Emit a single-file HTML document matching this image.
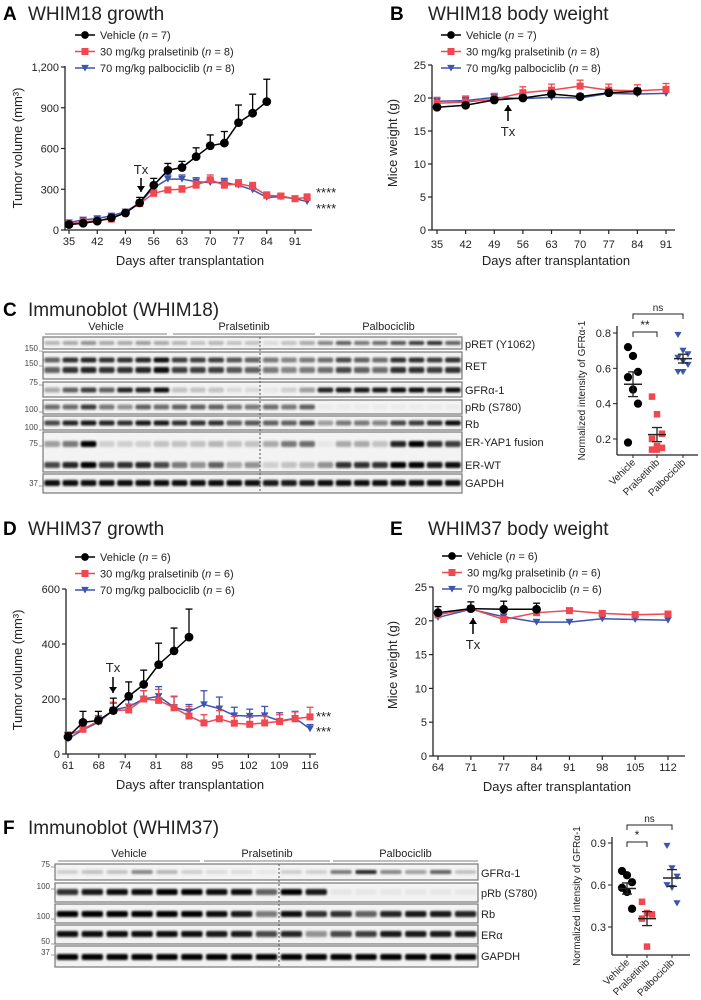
<!DOCTYPE html>
<html><head><meta charset="utf-8"><style>
html,body{margin:0;padding:0;background:#fff;}
svg{display:block;font-family:"Liberation Sans",Arial,sans-serif;}
</style></head><body>
<svg id="fig" width="701" height="1000" viewBox="0 0 701 1000" xmlns="http://www.w3.org/2000/svg">
<defs>
<filter id="blur" x="-20%" y="-50%" width="140%" height="200%"><feGaussianBlur stdDeviation="1.0"/></filter>
</defs>
<g id="root"></g>
</svg>
<script>
// ===== Panel A data =====
const aDays=[35,38.5,42,45.5,49,52.5,56,59.5,63,66.5,70,73.5,77,80.5,84,87.5,91,94];
const aVeh=[40,50,65,90,125,200,330,440,460,540,620,640,790,860,945];
const aVehErr=[10,10,12,15,15,40,50,50,45,65,80,85,130,140,165];
const aPra=[45,60,70,80,130,195,270,295,300,330,370,330,340,320,255,250,230,240];
const aPraErr=[10,10,10,12,15,20,25,20,25,30,35,30,30,30,25,20,20,25];
const aPal=[55,75,85,105,135,200,310,375,375,355,350,350,330,295,240,245,230,210];
const aPalErr=[10,10,12,12,15,20,25,30,30,30,30,30,25,25,20,20,20,20];
const aTicksX=[35,42,49,56,63,70,77,84,91];
const aTicksY=[0,300,600,900,1200];
const aTickYLabels=["0","300","600","900","1,200"];
// ===== Panel B data =====
const bDays=[35,42,49,56,63,70,77,84,91];
const bVeh=[18.6,18.9,19.7,20.0,20.6,20.2,20.8,21.0];
const bPra=[19.2,19.4,19.8,20.8,21.2,21.8,21.2,21.1,21.3];
const bPal=[19.5,19.6,20.1,19.9,20.1,20.0,20.7,20.6,20.7];
const bTicksY=[0,5,10,15,20,25];
// ===== Panel D data =====
const dDays=[61,64.4,67.9,71.3,74.8,78.2,81.6,85.1,88.5,91.9,95.4,98.8,102.3,105.7,109.1,112.6,116];
const dVeh=[62,115,122,158,210,253,325,375,425];
const dVehErr=[15,40,33,45,52,52,78,83,102];
const dPra=[68,90,120,158,160,200,195,168,138,113,128,112,108,113,118,128,135];
const dPraErr=[12,15,20,30,20,30,40,40,35,30,30,25,25,25,25,25,35];
const dPal=[55,88,115,160,172,200,210,170,155,180,165,140,138,140,120,130,92];
const dPalErr=[12,15,20,25,25,30,35,40,25,50,42,30,25,33,30,25,15];
const dTicksX=[61,68,74,81,88,95,102,109,116];
const dTicksY=[0,200,400,600];
// ===== Panel E data =====
const eCats=["64","71","77","84","91","98","105","112"];
const eVeh=[21.2,21.8,21.7,21.7];
const ePra=[20.9,21.8,20.2,21.2,21.5,21.1,20.9,21.0];
const ePal=[20.5,21.7,20.6,19.8,19.8,20.3,20.2,20.1];
const eTicksY=[0,5,10,15,20,25];
// ===== Scatter C data =====
const scGroups=["Vehicle","Pralsetinib","Palbociclib"];
const cVehPts=[0.72,0.67,0.58,0.55,0.48,0.40,0.18];
const cPraPts=[0.44,0.34,0.23,0.20,0.16,0.15,0.14,0.14];
const cPalPts=[0.79,0.70,0.68,0.66,0.64,0.62,0.58,0.58];
const cMeans=[0.51,0.225,0.655];
const cSem=[0.07,0.04,0.025];
const cTicksY=[0.2,0.4,0.6,0.8];
// ===== Scatter F data =====
const fVehPts=[0.70,0.67,0.62,0.58,0.55,0.43];
const fPraPts=[0.48,0.40,0.39,0.36,0.16];
const fPalPts=[0.88,0.72,0.66,0.60,0.58,0.47];
const fMeans=[0.575,0.36,0.65];
const fSem=[0.04,0.05,0.06];
const fTicksY=[0.3,0.6,0.9];
// ===== Blot C intensities (23 lanes) =====
const cLabels=["pRET (Y1062)","RET","GFRα-1","pRb (S780)","Rb","ER-YAP1 fusion","ER-WT","GAPDH"];
const cPRET=[.25,.3,.4,.3,.3,.35,.3,.25,.2,.25,.2,.2,.1,.2,.3,.45,.6,.5,.55,.65,.75,.8,.6];
const cRET=[.6,.8,.85,.8,.8,.85,.95,.75,.75,.75,.65,.6,.5,.45,.5,.55,.7,.6,.55,.8,.8,.75,.8];
const cGFR=[.3,.6,.75,.6,.85,.85,.95,.2,.2,.2,.1,.1,.05,.15,.35,.85,.9,.9,.9,.95,.95,.85,.95];
const cPRB=[.55,.55,.75,.5,.4,.6,.55,.6,.6,.6,.5,.5,.55,.5,.6,.03,.03,.03,.03,.03,.03,.03,.03];
const cRB=[.7,.85,.9,.85,.8,.9,.9,.8,.8,.8,.6,.65,.6,.6,.7,.35,.5,.5,.45,.7,.75,.8,.95];
const cYAP=[.35,.5,1,.15,.15,.15,.2,.2,.2,.25,.2,.2,.3,.5,.55,.05,.3,.3,.2,.85,1,.8,.75];
const cERWT=[.7,.85,1,.75,.8,.85,.7,.5,.4,.6,.3,.4,.15,.2,.25,.4,.8,.8,.8,1,1,.9,.95];
const cGAP=[.95,.95,.95,.95,.95,.95,.95,.95,.95,.95,.95,.95,.9,.9,.9,.95,.95,.95,.95,.95,.95,.95,.95];
// ===== Blot F intensities (17 lanes) =====
const fGFR=[.15,.2,.2,.45,.25,.15,.1,.1,.05,.15,.15,.5,.85,.45,.35,.6,.2];
const fPRB=[.8,.9,.95,.95,1,1,.95,.95,.6,1,.9,.05,.05,.05,.05,.05,.05];
const fRB=[1,1,1,1,1,1,.95,.9,.5,.95,.8,.8,.6,.85,.9,.9,.85];
const fER=[.95,.95,.95,.95,.95,.95,.9,.9,.7,.85,.4,.7,.75,.9,.9,.9,.9];
const fGAP=[1,1,1,1,1,1,1,1,1,1,1,1,1,1,1,1,1];

const NS="http://www.w3.org/2000/svg";
const root=document.getElementById('root');
const RED="#ef4850", BLUE="#3b55b0";
function el(tag,attrs,parent,text){const e=document.createElementNS(NS,tag);for(const k in attrs)e.setAttribute(k,attrs[k]);if(text!==undefined)e.textContent=text;(parent||root).appendChild(e);return e;}
function grp(name){const g=el('g',{});return g;}
function txt(g,x,y,s,size,anchor,extra){const t=el('text',Object.assign({x:x,y:y,'font-size':size,'text-anchor':anchor||'start',fill:'#222'},extra||{}),g,s);return t;}
function marker(g,type,x,y,s){
  if(type==='c') return el('circle',{cx:x,cy:y,r:s*0.55,fill:'#000'},g);
  if(type==='s') return el('rect',{x:x-s/2,y:y-s/2,width:s,height:s,fill:RED},g);
  return el('path',{d:`M${x-s*0.55},${y-s*0.45}L${x+s*0.55},${y-s*0.45}L${x},${y+s*0.5}Z`,fill:BLUE},g);
}
function panelTitle(letter,lx,tx,y,title){
  const g=grp('panel-title-'+letter.toLowerCase());
  el('text',{x:lx,y:y,'font-size':19,'font-weight':'bold',fill:'#000'},g,letter);
  el('text',{x:tx,y:y,'font-size':19,fill:'#222'},g,title);
}
function legend(g,x,y0,dy,labels){
  const types=['c','s','t'],cols=['#000',RED,BLUE];
  labels.forEach((L,i)=>{const y=y0+i*dy;
    const lg=el('g',{},g);
    el('line',{x1:x,x2:x+20,y1:y,y2:y,stroke:cols[i],'stroke-width':1.5},lg);
    marker(lg,types[i],x+10,y,7);
    const t=el('text',{x:x+25,y:y+4,'font-size':11,fill:'#222'},lg);
    t.appendChild(document.createTextNode(L[0]+' ('));
    el('tspan',{'font-style':'italic'},t,'n');
    t.appendChild(document.createTextNode(' = '+L[1]+')'));
  });
}
function series(g,xs,ys,errs,sx,sy,type,color,name){
  const sg=el('g',{},g);
  if(errs) ys.forEach((v,i)=>{const x=sx(xs[i]);el('line',{x1:x,x2:x,y1:sy(v),y2:sy(v+errs[i]),stroke:color,'stroke-width':1.3},sg);el('line',{x1:x-3.5,x2:x+3.5,y1:sy(v+errs[i]),y2:sy(v+errs[i]),stroke:color,'stroke-width':1.3},sg);});
  const pts=ys.map((v,i)=>sx(xs[i])+','+sy(v)).join(' ');
  el('polyline',{points:pts,fill:'none',stroke:color,'stroke-width':1.5},sg);
  ys.forEach((v,i)=>{const m=marker(sg,type,sx(xs[i]),sy(v),type==='c'?8:7);});
}
function axes(g,x0,x1,y0,y1,yTicks,yLab,sy,xTicksPos,xLabs,tickLabY){
  el('line',{x1:x0,x2:x0,y1:y0,y2:y1,stroke:'#222','stroke-width':1.3},g);
  el('line',{x1:x0,x2:x1,y1:y0,y2:y0,stroke:'#222','stroke-width':1.3},g);
  yTicks.forEach((v,i)=>{el('line',{x1:x0-4,x2:x0,y1:sy(v),y2:sy(v),stroke:'#222','stroke-width':1.2},g);txt(g,x0-6,sy(v)+4,yLab[i],11,'end');});
  xTicksPos.forEach((x,i)=>{el('line',{x1:x,x2:x,y1:y0,y2:y0+4,stroke:'#222','stroke-width':1.2},g);txt(g,x,tickLabY,xLabs[i],11,'middle');});
}
function arrowTx(g,x,yText,yA,yB,up){
  txt(g,x,yText,'Tx',13,'middle');
  el('line',{x1:x,x2:x,y1:yA,y2:yB,stroke:'#000','stroke-width':1.5},g);
  const tip=up?yA:yB,d=up?6:-6;
  el('path',{d:`M${x-4},${tip+d}L${x+4},${tip+d}L${x},${tip}Z`,fill:'#000'},g);
}
function rotLabel(g,x,y,s,size){return txt(g,x,y,s,size,'middle',{transform:`rotate(-90 ${x} ${y})`});}

// ---- Panel A ----
panelTitle('A',3,28,20,'WHIM18 growth');
(function(){const g=grp('chart-a-tumor-growth');
 const sx=d=>69+(d-35)*(295-69)/56, sy=v=>230-v*(163/1200);
 axes(g,65,312,230,66,aTicksY,aTickYLabels,sy,aTicksX.map(sx),aTicksX.map(String),245);
 rotLabel(g,22,148,'Tumor volume (mm³)',13);
 txt(g,190,265,'Days after transplantation',13,'middle');
 series(g,aDays,aPal,aPalErr,sx,sy,'t',BLUE,'series-palbociclib');
 series(g,aDays,aPra,aPraErr,sx,sy,'s',RED,'series-pralsetinib');
 series(g,aDays,aVeh,aVehErr,sx,sy,'c','#000','series-vehicle');
 arrowTx(g,141,174,178,192,false);
 txt(g,316,197,'****',13,'start');txt(g,316,213,'****',13,'start');
 legend(g,75,35,16.5,[['Vehicle','7'],['30 mg/kg pralsetinib','8'],['70 mg/kg palbociclib','8']]);
})();
// ---- Panel B ----
panelTitle('B',390,428,20,'WHIM18 body weight');
(function(){const g=grp('chart-b-body-weight');
 const sx=d=>437+(d-35)*(666-437)/56, sy=v=>230-v*(165/25);
 axes(g,432,675,230,65,bTicksY,bTicksY.map(String),sy,bDays.map(sx),bDays.map(String),248);
 rotLabel(g,397,143,'Mice weight (g)',13);
 txt(g,556,265,'Days after transplantation',13,'middle');
 series(g,bDays,bPal,bPal.map(()=>0.5),sx,sy,'t',BLUE,'series-palbociclib');
 series(g,bDays,bPra,bPra.map(()=>0.9),sx,sy,'s',RED,'series-pralsetinib');
 series(g,bDays,bVeh,bVeh.map(()=>0.4),sx,sy,'c','#000','series-vehicle');
 arrowTx(g,508,136,105,121,true);
 legend(g,441,35,16.5,[['Vehicle','7'],['30 mg/kg pralsetinib','8'],['70 mg/kg palbociclib','8']]);
})();
// ---- Blot helper ----
function blot(name,x0,x1,nLanes,dash,rows,labels,mw,groups){
 const g=grp(name);const lw=(x1-x0)/nLanes;
 groups.forEach(gr=>{txt(g,(gr[1]+gr[2])/2,gr[3]-4,gr[0],11,'middle');el('line',{x1:gr[1],x2:gr[2],y1:gr[3],y2:gr[3],stroke:'#999','stroke-width':1.2},g);});
 rows.forEach(r=>{
  el('rect',{x:x0,y:r.y,width:x1-x0,height:r.h,fill:'#f3f3f3',stroke:'#777','stroke-width':1.2},g);
  r.bands.forEach(b=>{
   b.vals.forEach((v,i)=>{const cx=x0+lw*(i+0.5);
    const band=el('rect',{x:cx-lw*0.43,y:r.y+b.off-b.bh/2,width:lw*0.86,height:b.bh,rx:2,fill:'#000','fill-opacity':Math.min(1,v),filter:'url(#blur)'},g);
    });
  });
 });
 const top=rows[0].y,bot=rows[rows.length-1].y+rows[rows.length-1].h;
 el('line',{x1:dash,x2:dash,y1:top,y2:bot,stroke:'#555','stroke-width':1,'stroke-dasharray':'2,2'},g);
 labels.forEach(l=>txt(g,x1+3,l[1],l[0],11,'start'));
 mw.forEach(m=>{txt(g,x0-5,m[1],m[0],8,'end',{fill:'#444'});el('line',{x1:x0-4,x2:x0,y1:m[1],y2:m[1],stroke:'#888','stroke-width':0.8},g);});
}
// ---- Panel C ----
panelTitle('C',3,28,316,'Immunoblot (WHIM18)');
blot('immunoblot-whim18',43,462,23,260,[
 {y:337,h:12,bands:[{off:6,bh:4,vals:cPRET}]},
 {y:352,h:27,bands:[{off:8,bh:5,vals:cRET},{off:18,bh:6,vals:cRET}]},
 {y:382,h:15,bands:[{off:8,bh:5,vals:cGFR}]},
 {y:400,h:14,bands:[{off:7,bh:5,vals:cPRB}]},
 {y:416,h:14,bands:[{off:7,bh:5,vals:cRB}]},
 {y:432,h:40,bands:[{off:12,bh:6,vals:cYAP},{off:33,bh:6,vals:cERWT}]},
 {y:474,h:19,bands:[{off:9,bh:6,vals:cGAP}]}
],[[cLabels[0],348],[cLabels[1],370],[cLabels[2],394],[cLabels[3],411],[cLabels[4],428],[cLabels[5],446],[cLabels[6],469],[cLabels[7],487]],
[['150',351],['150',366],['75',385],['100',412],['100',430],['75',446],['37',486]],
[['Vehicle',45,167,334],['Pralsetinib',173,315,334],['Palbociclib',320,457,334]]);
// ---- Scatter helper ----
function scatter(name,x0,x1,yTop,yBot,sy,ticks,cx,pts,means,sem,brk){
 const g=grp(name);
 el('line',{x1:x0,x2:x0,y1:yTop,y2:yBot,stroke:'#222','stroke-width':1.3},g);
 el('line',{x1:x0,x2:x1,y1:yBot,y2:yBot,stroke:'#222','stroke-width':1.3},g);
 ticks.forEach(v=>{el('line',{x1:x0-4,x2:x0,y1:sy(v),y2:sy(v),stroke:'#222'},g);txt(g,x0-6,sy(v)+4,v.toFixed(1),11,'end');});
 rotLabel(g,x0-32,(yTop+yBot)/2,'Normalized intensity of GFRα-1',10);
 const types=['c','s','t'];
 pts.forEach((arr,k)=>{arr.forEach((v,i)=>{const off=((i%3)-1)*5;const m=marker(g,types[k],cx[k]+off,sy(v),k===0?7.5:6.5);});
  el('line',{x1:cx[k]-9,x2:cx[k]+9,y1:sy(means[k]),y2:sy(means[k]),stroke:'#222','stroke-width':1.5},g);
  el('line',{x1:cx[k],x2:cx[k],y1:sy(means[k]-sem[k]),y2:sy(means[k]+sem[k]),stroke:'#222','stroke-width':1.3},g);
  [means[k]-sem[k],means[k]+sem[k]].forEach(v=>el('line',{x1:cx[k]-5,x2:cx[k]+5,y1:sy(v),y2:sy(v),stroke:'#222','stroke-width':1.3},g));
  el('line',{x1:cx[k],x2:cx[k],y1:yBot,y2:yBot+3,stroke:'#222'},g);
  txt(g,cx[k]+3,yBot+8,scGroups[k],10,'end',{transform:`rotate(-45 ${cx[k]+3} ${yBot+8})`});
 });
 brk.forEach(b=>{el('path',{d:`M${cx[b[0]]},${b[2]+5}V${b[2]}H${cx[b[1]]}V${b[2]+5}`,fill:'none',stroke:'#222','stroke-width':1},g);txt(g,(cx[b[0]]+cx[b[1]])/2,b[2]-3,b[3],b[3]==='ns'?10:12,'middle');});
}
scatter('scatter-c-gfra1',617,698,326,455,v=>439-(v-0.2)*(106/0.6),cTicksY,[633,657,683],[cVehPts,cPraPts,cPalPts],cMeans,cSem,[[0,2,314,'ns'],[0,1,332,'**']]);
// ---- Panel D ----
panelTitle('D',3,28,535,'WHIM37 growth');
(function(){const g=grp('chart-d-tumor-growth');
 const sx=d=>68+(d-61)*(310-68)/55, sy=v=>754-v*(165/600);
 axes(g,66,316,754,589,dTicksY,dTicksY.map(String),sy,dTicksX.map(sx),dTicksX.map(String),769);
 rotLabel(g,22,670,'Tumor volume (mm³)',13);
 txt(g,190,789,'Days after transplantation',13,'middle');
 series(g,dDays,dPal,dPalErr,sx,sy,'t',BLUE,'series-palbociclib');
 series(g,dDays,dPra,dPraErr,sx,sy,'s',RED,'series-pralsetinib');
 series(g,dDays,dVeh,dVehErr,sx,sy,'c','#000','series-vehicle');
 arrowTx(g,113,672,677,693,false);
 txt(g,316,721,'***',13,'start');txt(g,316,736,'***',13,'start');
 legend(g,75,557,16.5,[['Vehicle','6'],['30 mg/kg pralsetinib','6'],['70 mg/kg palbociclib','6']]);
})();
// ---- Panel E ----
panelTitle('E',390,428,535,'WHIM37 body weight');
(function(){const g=grp('chart-e-body-weight');
 const idx=eCats.map((c,i)=>i);
 const sx=i=>438+i*(668-438)/7, sy=v=>756-v*(169/25);
 axes(g,433,685,756,587,eTicksY,eTicksY.map(String),sy,idx.map(sx),eCats,771);
 rotLabel(g,397,665,'Mice weight (g)',13);
 txt(g,557,791,'Days after transplantation',13,'middle');
 series(g,idx,ePal,ePal.map(()=>0.4),sx,sy,'t',BLUE,'series-palbociclib');
 series(g,idx,ePra,ePra.map(()=>0.4),sx,sy,'s',RED,'series-pralsetinib');
 series(g,idx,eVeh,[0.9,1.0,1.2,0.9],sx,sy,'c','#000','series-vehicle');
 arrowTx(g,473,649,618,634,true);
 legend(g,442,556,16.5,[['Vehicle','6'],['30 mg/kg pralsetinib','6'],['70 mg/kg palbociclib','6']]);
})();
// ---- Panel F ----
panelTitle('F',3,28,834,'Immunoblot (WHIM37)');
blot('immunoblot-whim37',55,478,17,279,[
 {y:864,h:16,bands:[{off:8,bh:4,vals:fGFR}]},
 {y:883,h:19,bands:[{off:9,bh:6,vals:fPRB}]},
 {y:904,h:19,bands:[{off:10,bh:6,vals:fRB}]},
 {y:925,h:19,bands:[{off:9,bh:6,vals:fER}]},
 {y:946,h:21,bands:[{off:11,bh:6,vals:fGAP}]}
],[['GFRα-1',877],['pRb (S780)',897],['Rb',918],['ERα',939],['GAPDH',960]],
[['75',867],['100',889],['100',919],['50',944],['37',955]],
[['Vehicle',58,200,861],['Pralsetinib',204,330,861],['Palbociclib',333,478,861]]);
scatter('scatter-f-gfra1',612,690,837,955,v=>927-(v-0.3)*(84/0.6),fTicksY,[627,647,672],[fVehPts,fPraPts,fPalPts],fMeans,fSem,[[0,2,825,'ns'],[0,1,842,'*']]);
</script>
</body></html>
